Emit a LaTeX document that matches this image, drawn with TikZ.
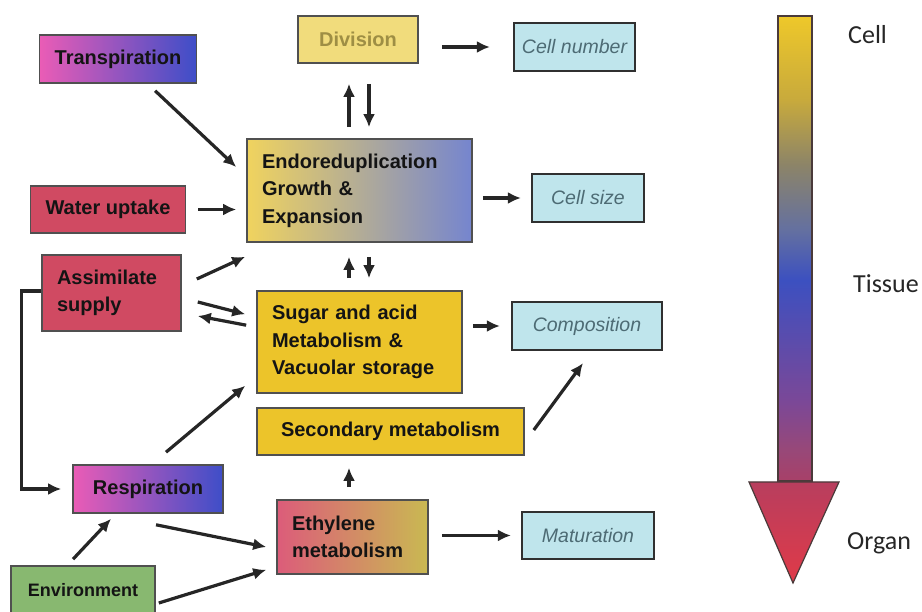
\documentclass[tikz,border=0pt]{standalone}
\usepackage{fontspec}
\setmainfont{Liberation Sans}
\newfontfamily\calibfont{Carlito}
\usetikzlibrary{arrows.meta}

\definecolor{boxline}{HTML}{505050}
\definecolor{outline}{HTML}{303030}
\definecolor{arrowgray}{HTML}{262626}
\definecolor{transL}{HTML}{EA5CB6}
\definecolor{transR}{HTML}{3E4EC8}
\definecolor{endoL}{HTML}{F0D35E}
\definecolor{endoR}{HTML}{7585CF}
\definecolor{redfill}{HTML}{D04A62}
\definecolor{yellowfill}{HTML}{ECC42A}
\definecolor{divfill}{HTML}{F1DC7C}
\definecolor{divtext}{HTML}{9E8E44}
\definecolor{outfill}{HTML}{BFE5EC}
\definecolor{outtext}{HTML}{4D6B74}
\definecolor{ethL}{HTML}{DC5C7A}
\definecolor{ethR}{HTML}{C9B952}
\definecolor{greenfill}{HTML}{88B870}
\definecolor{barline}{HTML}{4A3A3A}
\definecolor{barA}{HTML}{EEC82A}
\definecolor{barB}{HTML}{C8AA3C}
\definecolor{barC}{HTML}{8C8468}
\definecolor{barD}{HTML}{6470A0}
\definecolor{barE}{HTML}{3C50C0}
\definecolor{barF}{HTML}{7A4898}
\definecolor{barG}{HTML}{984878}
\definecolor{barH}{HTML}{A84068}
\definecolor{headtop}{HTML}{B83E5E}
\definecolor{headtip}{HTML}{E03A48}

\pgfdeclareverticalshading{levelbar}{100bp}{color(0bp)=(barH); color(25bp)=(barH);
  color(28.3bp)=(barG); color(33.7bp)=(barF); color(46.6bp)=(barE); color(52bp)=(barD);
  color(59bp)=(barC); color(66bp)=(barB); color(75bp)=(barA); color(100bp)=(barA)}

\begin{document}
\begin{tikzpicture}[x=1pt, y=-1pt,
    box/.style={draw=boxline, line width=1.6pt, inner xsep=15pt, inner ysep=0pt,
      text=black!92, font=\bfseries\fontsize{20}{27.5}\selectfont},
    textbox/.style={box, align=left},
    outbox/.style={draw=outline, line width=2.2pt, fill=outfill, text=outtext,
      inner sep=0pt, font=\itshape\fontsize{19.5}{24}\selectfont},
    arr/.style={draw=arrowgray, line width=3.2pt, -{Latex[length=13pt,width=12pt]}},
    lvl/.style={anchor=west, inner sep=0pt, text=black!85,
      font=\calibfont\fontsize{26}{30}\selectfont}]
    \useasboundingbox (0,0) rectangle (922,612);

    \node[box, minimum width=150pt, minimum height=48pt, left color=transL, right color=transR] (trans) at (118,59) {Transpiration};
    \node[box, minimum width=120pt, minimum height=47pt, fill=divfill, text=divtext] (div) at (358,39.5) {Division};
    \node[outbox, minimum width=121pt, minimum height=48pt] (cellnum) at (574.5,47) {Cell number};
    \node[textbox, text width=195pt, minimum height=103pt, left color=endoL, right color=endoR] (endo) at (359.5,190.5) {Endoreduplication\\Growth \&\\Expansion};
    \node[outbox, minimum width=112pt, minimum height=48pt] (cellsize) at (588,198) {Cell size};
    \node[box, minimum width=150pt, minimum height=47pt, fill=redfill] (water) at (108,209.5) {Water uptake};
    \node[textbox, text width=109pt, minimum height=76pt, fill=redfill] (assim) at (111.5,293) {Assimilate\\supply};
    \node[textbox, text width=175pt, minimum height=102pt, fill=yellowfill] (sugar) at (359.5,342) {Sugar and acid\\Metabolism \&\\Vacuolar storage};
    \node[outbox, minimum width=150pt, minimum height=48pt] (compo) at (587,326) {Composition};
    \node[box, minimum width=267pt, minimum height=47pt, fill=yellowfill] (second) at (390.5,431.5) {Secondary metabolism};
    \node[box, minimum width=150pt, minimum height=48pt, left color=transL, right color=transR] (resp) at (148,489) {Respiration};
    \node[textbox, text width=121pt, minimum height=74pt, left color=ethL, right color=ethR] (ethyl) at (352.5,537) {Ethylene\\metabolism};
    \node[outbox, minimum width=132pt, minimum height=47pt] (matur) at (588,535.5) {Maturation};
    \node[box, minimum width=144pt, minimum height=48pt, fill=greenfill, font=\bfseries\fontsize{18}{21}\selectfont] (env) at (83,590) {Environment};

    \draw[arr] ([xshift=-42pt,yshift=-7pt]trans.south east) -- ([xshift=-10pt,yshift=23.5pt]endo.west);
    \draw[arr, shorten <=12pt, shorten >=10pt] (water.east) -- (endo.west |- water.east);
    \draw[arr, shorten <=11pt, shorten >=20pt] ([xshift=-10.5pt]endo.north) -- ([xshift=-10.5pt]endo.north |- div.south);
    \draw[arr, shorten <=20pt, shorten >=11pt] ([xshift=9.5pt]endo.north |- div.south) -- ([xshift=9.5pt]endo.north);
    \draw[arr, shorten <=23pt, shorten >=23pt] (div.east |- cellnum.west) -- (cellnum.west);
    \draw[arr, shorten <=10pt, shorten >=10pt] (endo.east |- cellsize.west) -- (cellsize.west);
    \draw[arr, shorten <=12pt, shorten >=14pt] ([xshift=-10.5pt]sugar.north) -- ([xshift=-10.5pt]sugar.north |- endo.south);
    \draw[arr, shorten <=14pt, shorten >=12pt] ([xshift=9.5pt]sugar.north |- endo.south) -- ([xshift=9.5pt]sugar.north);
    \draw[arr] ([xshift=15pt,yshift=14pt]assim.east) -- ([xshift=-1pt,yshift=-14pt]endo.south west);
    \draw[arr] ([xshift=16pt,yshift=-9pt]assim.east) -- ([xshift=-11pt,yshift=-24pt]sugar.north west);
    \draw[arr] ([xshift=-10pt,yshift=-35pt]sugar.north west) -- ([xshift=16pt,yshift=-23pt]assim.east);
    \draw[arr, shorten <=10pt, shorten >=11pt] (sugar.east |- compo.west) -- (compo.west);
    \draw[arr] ([xshift=9pt,yshift=1.5pt]second.east) -- ([xshift=-4pt,yshift=-12pt]compo.south);
    \draw[arr] ([xshift=18pt,yshift=12pt]resp.north) -- ([xshift=-11pt,yshift=8pt]sugar.south west);
    \draw[arr, shorten <=12pt, shorten >=12pt] ([xshift=-3.5pt]ethyl.north) -- ([xshift=-3.5pt]ethyl.north |- second.south);
    \draw[arr] ([xshift=8pt,yshift=-11pt]resp.south) -- ([xshift=-10pt,yshift=-10pt]ethyl.west);
    \draw[arr] ([xshift=-10pt,yshift=6pt]env.north) -- ([xshift=-37pt,yshift=-5pt]resp.south);
    \draw[arr] ([xshift=3pt,yshift=-13pt]env.east) -- ([xshift=-10pt,yshift=5pt]ethyl.south west);
    \draw[arr, shorten <=13pt, shorten >=10pt] (ethyl.east |- matur.west) -- (matur.west);
    \draw[arr, shorten >=11pt] ([yshift=2pt]assim.west) -- ++(-20pt,0) |- (resp.west);

    \shade[shading=levelbar, draw=barline, line width=1.2pt] (778,16) rectangle (812,481);
    \shade[top color=headtop, bottom color=headtip, draw=barline, line width=1.2pt] (749,482) -- (839,482) -- (793,583) -- cycle;
    \node[lvl] (cell) at (848,35) {Cell};
    \node[lvl] (tissue) at (853,284) {Tissue};
    \node[lvl] (organ) at (847,543) {Organ};
\end{tikzpicture}
\end{document}
